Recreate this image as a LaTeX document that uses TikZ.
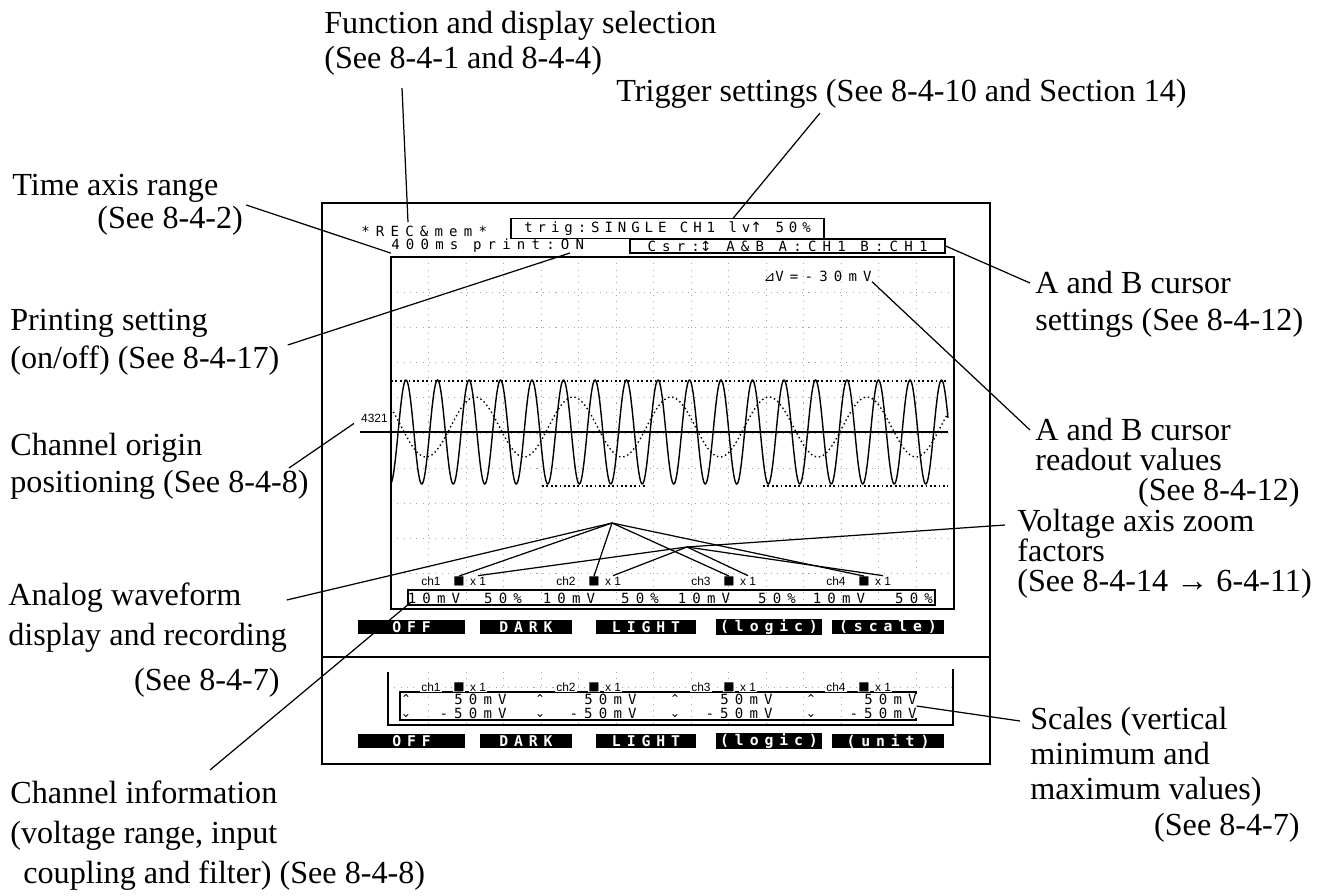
\documentclass[tikz,border=0pt]{standalone}
\usepackage{fontspec}
\setmainfont{Liberation Serif}
\newfontfamily\lcdfont[LetterSpace=44]{DejaVu Sans Mono}
\newfontfamily\trigfont[LetterSpace=35]{DejaVu Sans Mono}
\newfontfamily\keyfont[LetterSpace=40]{DejaVu Sans Mono}
\newfontfamily\chfont{Liberation Sans}
\newfontfamily\symfont{DejaVu Sans}
\usetikzlibrary{calc}

\begin{document}
\begin{tikzpicture}[
  x=0.02cm, y=-0.02cm,
  lbl/.style={font=\fontsize{18.3}{22}\selectfont, inner sep=0pt, anchor=base west},
  rlbl/.style={lbl, anchor=base east},
  lcd/.style={font=\fontsize{8}{9}\lcdfont, inner sep=0pt},
  chtxt/.style={font=\fontsize{6.8}{7}\chfont, inner sep=0.5pt},
  sym/.style={font=\fontsize{8}{9}\symfont, inner sep=0pt},
  softkey/.style={fill=black, text=white, font=\fontsize{8.4}{9}\keyfont\bfseries,
    minimum height=0.27cm, inner sep=0pt},
  outer/.style={line width=1.6pt},
  scr/.style={line width=0.9pt},
  lcdbox/.style={draw, line width=0.8pt, inner sep=0pt},
  gridline/.style={gray!70, line width=0.5pt, dash pattern=on 0.6pt off 3pt},
  lead/.style={line width=0.7pt},
  wave/.style={line width=0.8pt},
  slow/.style={line width=0.8pt, dash pattern=on 0.8pt off 1.6pt}
]
\useasboundingbox (0,0) rectangle (1326,896);

% Instrument frame and screen
\draw[outer] (322,203) rectangle (990,764);
\draw[outer] (322,657) -- (990,657);
\foreach \k in {1,...,14}
  \draw[gridline] ({391+37.53*\k},257) -- ({391+37.53*\k},609);
\foreach \k in {1,...,9}
  \draw[gridline] (391,{257+35.2*\k}) -- (954,{257+35.2*\k});
\draw[scr] (391,257) rectangle (954,609);

% Waveforms
\draw[line width=0.9pt, dash pattern=on 1pt off 1.5pt] (391,381) -- (948,381);
\draw[line width=0.9pt, dash pattern=on 1pt off 1.5pt] (542,486) -- (647,486);
\draw[line width=0.9pt, dash pattern=on 1pt off 1.5pt] (763,486) -- (948,486);
\draw[slow] plot[domain=391:948, samples=220, smooth]
  (\x, {427-30*cos((\x-573)/98*360)});
\draw[wave] plot[domain=391:948, samples=720, smooth]
  (\x, {432-52*cos((\x-406)/31.5*360)});
\draw[line width=1.3pt] (360,432) -- (948,432);
\node[chtxt, anchor=east] (org) at (389,418) {4321};

% Status lines
\node[lcd, anchor=west] (mode) at (361,231) {*REC\&mem*};
\node[lcdbox, font=\fontsize{8}{9}\trigfont, minimum width=6.26cm,
  minimum height=0.4cm] (trig) at (667.5,228.5)
  {trig:SINGLE CH1 lv{\symfont ↑} 50\%};
\node[lcd, anchor=west] (tdiv) at (391,246) {400ms print:ON};
\node[lcdbox, font=\fontsize{8}{9}\lcdfont, minimum width=6.3cm,
  minimum height=0.28cm] (csr) at (787.5,246)
  {Csr:{\symfont ↕} A\&B A:CH1 B:CH1};
\node[lcd, anchor=east] (dv) at (872,276) {{\symfont ⊿}V=-30mV};
\coordinate (recTip) at (408,222);
\coordinate (onTip) at (570,253);

% Channel rows on the waveform screen
\foreach \k/\cx in {1/431,2/566,3/701,4/836} {
  \node[chtxt] (ch\k) at (\cx,581) {ch\k};
  \node[sym, font=\fontsize{6.8}{7}\symfont] (sq\k) at ({\cx+28},581) {■};
  \node[chtxt] (zf\k) at ({\cx+47},581) {x 1};
}
\node[lcdbox, minimum width=10.54cm, minimum height=0.3cm] (info) at (671.5,597.5) {};
\foreach \k/\ax/\bx in {1/434/503, 2/569/640, 3/704/777, 4/839/914} {
  \node[lcd] (rng\k) at (\ax,598) {10mV};
  \node[lcd] (pct\k) at (\bx,598) {50\%};
}

% Soft keys
\foreach \name/\cx/\w/\txt in {kOffA/411.5/107/OFF, kDarkA/526/92/DARK,
    kLightA/646/100/LIGHT, kLogicA/769/106/(logic), kScaleA/888/112/(scale)}
  \node[softkey, minimum width=\w*0.02cm] (\name) at (\cx,627) {\txt};
\foreach \name/\cx/\w/\txt in {kOffB/411.5/107/OFF, kDarkB/526/92/DARK,
    kLightB/646/100/LIGHT, kLogicB/769/106/(logic), kUnitB/888/112/(unit)}
  \node[softkey, minimum width=\w*0.02cm] (\name) at (\cx,741) {\txt};

% Scale panel
\foreach \k in {1,...,14}
  \draw[gridline] ({391+37.53*\k},672) -- ({391+37.53*\k},725);
\draw[gridline] (388,687) -- (953,687);
\draw[scr] (388,672) -- (388,725) -- (953,725) -- (953,669);
\node[lcdbox, minimum width=10.32cm, minimum height=0.56cm] (scl) at (658,706) {};
\foreach \k/\cx in {1/431,2/566,3/701,4/836} {
  \node[chtxt, fill=white] (bch\k) at (\cx,687) {ch\k};
  \node[sym, font=\fontsize{6.8}{7}\symfont, fill=white] (bsq\k) at ({\cx+28},687) {■};
  \node[chtxt, fill=white] (bzf\k) at ({\cx+47},687) {x 1};
}
\foreach \k/\ax/\vx in {1/406/507, 2/540/637, 3/675/773, 4/811/917} {
  \node[sym, fill=white, align=center, font=\fontsize{7}{8}\symfont]
    (arr\k) at (\ax,706) {⌃\\⌄};
  \node[lcd, fill=white, align=right, anchor=east, font=\fontsize{8}{8}\lcdfont]
    (val\k) at (\vx,706) {50mV\\-50mV};
}

% Callout texts
\node[lbl] (funcA) at (324,33) {Function and display selection};
\node[lbl] (funcB) at (324,68) {(See 8-4-1 and 8-4-4)};
\node[lbl] (trigA) at (616,101) {Trigger settings (See 8-4-10 and Section 14)};
\node[lbl] (timeA) at (12,195) {Time axis range};
\node[lbl] (timeB) at (97,228) {(See 8-4-2)};
\node[lbl] (printA) at (10,330) {Printing setting};
\node[lbl] (printB) at (10,368) {(on/off) (See 8-4-17)};
\node[lbl] (originA) at (10,455) {Channel origin};
\node[lbl] (originB) at (10,492) {positioning (See 8-4-8)};
\node[lbl] (analogA) at (8,605) {Analog waveform};
\node[lbl] (analogB) at (8,645) {display and recording};
\node[rlbl] (analogC) at (280,690) {(See 8-4-7)};
\node[lbl] (infoA) at (10,803) {Channel information};
\node[lbl] (infoB) at (10,843) {(voltage range, input};
\node[lbl] (infoC) at (23,883) {coupling and filter) (See 8-4-8)};
\node[lbl] (cursA) at (1035,293) {A and B cursor};
\node[lbl] (cursB) at (1035,330) {settings (See 8-4-12)};
\node[lbl] (readA) at (1035,440) {A and B cursor};
\node[lbl] (readB) at (1035,470) {readout values};
\node[rlbl] (readC) at (1300,500) {(See 8-4-12)};
\node[lbl] (voltA) at (1017,531) {Voltage axis zoom};
\node[lbl] (voltB) at (1017,561) {factors};
\node[lbl] (voltC) at (1017,591) {(See 8-4-14 → 6-4-11)};
\node[lbl] (scaleA) at (1030,729) {Scales (vertical};
\node[lbl] (scaleB) at (1030,764) {minimum and};
\node[lbl] (scaleC) at (1030,799) {maximum values)};
\node[rlbl] (scaleD) at (1300,835) {(See 8-4-7)};

% Leaders
\coordinate (dispHub) at (612,523);
\coordinate (zoomHub) at (687,547);
\draw[lead] ([shift={(78,20)}]funcB.base west) -- (recTip);
\draw[lead] ([shift={(204,12)}]trigA.base west) -- ([shift={(66,0)}]trig.north);
\draw[lead] ([shift={(3,-23)}]timeB.base east) -- (tdiv.south west);
\draw[lead] ([shift={(8,-23)}]printB.base east) -- (onTip);
\draw[lead] ([shift={(-20,-24)}]originB.base east) -- ([shift={(-6,0)}]org.south west);
\draw[lead] ([shift={(45,-5)}]analogA.base east) -- (dispHub);
\draw[lead] ([shift={(200,-33)}]infoA.base west) -- ([shift={(3,-3)}]info.south west);
\draw[lead] (csr.east) -- ([shift={(-5,-10)}]cursA.base west);
\draw[lead] (dv.south east) -- ([shift={(-5,-10)}]readA.base west);
\draw[lead] (zoomHub) -- ([shift={(-12,-6)}]voltA.base west);
\draw[lead] (scl.east) -- ([shift={(-10,-8)}]scaleA.base west);
\foreach \k in {1,...,4} {
  \draw[lead] (dispHub) -- (sq\k.north);
  \draw[lead] (zoomHub) -- (zf\k.north);
}

\end{tikzpicture}
\end{document}
